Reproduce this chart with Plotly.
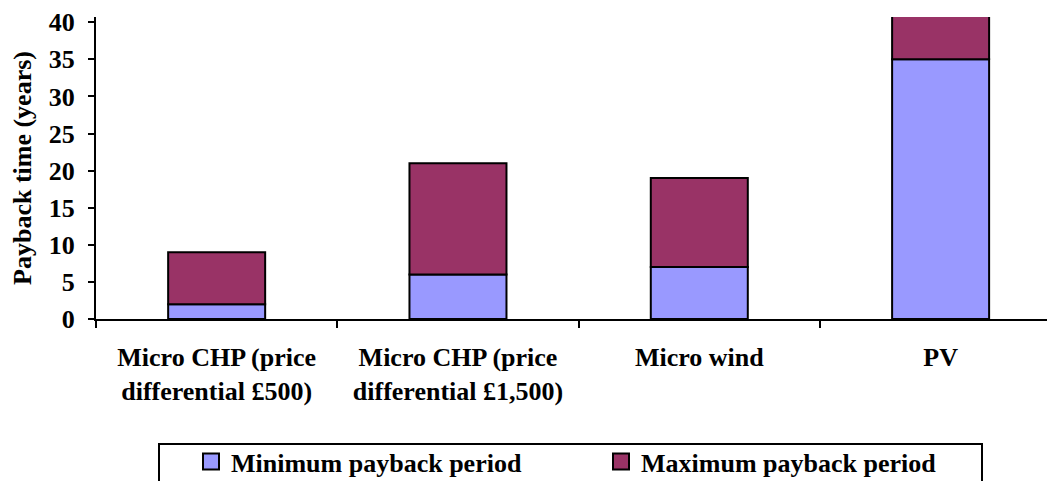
import plotly.graph_objects as go

categories = ["Micro CHP (price<br>differential £500)",
              "Micro CHP (price<br>differential £1,500)",
              "Micro wind",
              "PV"]
min_payback = [2, 6, 7, 35]
max_payback = [9, 21, 19, 45]
extra = [mx - mn for mx, mn in zip(max_payback, min_payback)]
y_ticks = [0, 5, 10, 15, 20, 25, 30, 35, 40]
series_names = ["Minimum payback period", "Maximum payback period"]
series_colors = ["#9999FF", "#993366"]

FONT = "Liberation Serif"
FS = 26

# page has an 8px body margin; figure sized so it fills the 1055x481 window
W, H = 1047, 473
L, R, T, B = 88, 0, 9, 162
PW, PH = W - L - R, H - T - B

fig = go.Figure()
fig.add_bar(x=categories, y=min_payback, name=series_names[0], showlegend=False,
            marker=dict(color=series_colors[0], line=dict(color="black", width=2)), width=0.402)
fig.add_bar(x=categories, y=extra, base=min_payback, name=series_names[1], showlegend=False,
            marker=dict(color=series_colors[1], line=dict(color="black", width=2)), width=0.402)
# legend proxies (larger square symbols)
for nm, col in zip(series_names, series_colors):
    fig.add_scatter(x=[None], y=[None], mode="markers", name=f"<b>{nm}</b>",
                    marker=dict(symbol="square", size=16, color=col,
                                line=dict(color="black", width=2)))

def px_x(p):
    return (p - L) / PW

def px_y(p):
    return (T + PH - p) / PH

fig.add_shape(type="rect", xref="paper", yref="paper",
              x0=px_x(151), x1=px_x(974), y0=px_y(436), y1=px_y(490),
              line=dict(color="black", width=2), fillcolor="rgba(0,0,0,0)", layer="above")

fig.update_layout(
    barmode="overlay",
    width=W, height=H,
    margin=dict(l=L, r=R, t=T, b=B, autoexpand=False),
    plot_bgcolor="white", paper_bgcolor="white",
    font=dict(family=FONT, size=FS, color="black"),
    showlegend=True,
    legend=dict(orientation="h", xref="container", yref="container",
                x=183/W, xanchor="left", y=1 - 430/H, yanchor="top",
                borderwidth=0, bgcolor="rgba(0,0,0,0)", entrywidth=365,
                font=dict(family=FONT, size=FS, color="black"),
                itemsizing="trace"),
)
fig.update_xaxes(range=[-0.5, 3.474],
                 showline=True, linecolor="black", linewidth=2, ticks="outside",
                 tickson="boundaries", ticklen=7, tickwidth=2, tickcolor="black",
                 tickfont=dict(family=FONT, size=FS, color="black"),
                 ticklabelstandoff=14, automargin=False,
                 showgrid=False, zeroline=False,
                 ticktext=[f"<b>{c}</b>" for c in categories], tickvals=categories)
fig.update_yaxes(range=[0, 40.7], tickvals=y_ticks, ticktext=[f"<b>{v}</b>" for v in y_ticks],
                 showline=True, linecolor="black", linewidth=2,
                 ticks="outside", ticklen=6, tickwidth=2, tickcolor="black",
                 ticklabelstandoff=8, automargin=False,
                 showgrid=False, zeroline=False,
                 title=dict(text="<b>Payback time (years)</b>", font=dict(family=FONT, size=FS), standoff=11),
                 tickfont=dict(family=FONT, size=FS, color="black"))

fig.write_html("out.html")
